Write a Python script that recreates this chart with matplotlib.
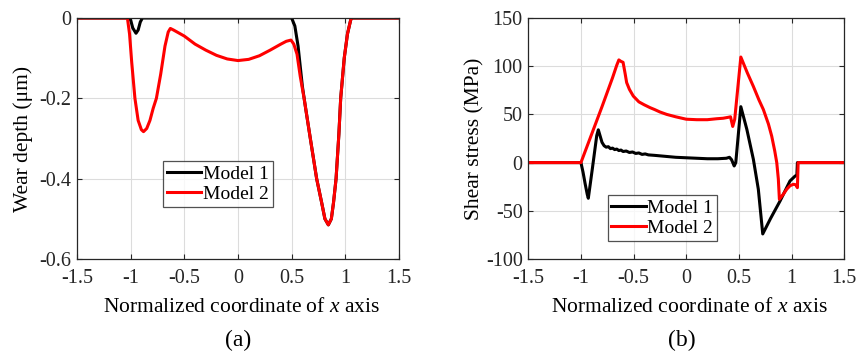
import numpy as np
import matplotlib
matplotlib.use("Agg")
import matplotlib.pyplot as plt

plt.rcParams['font.family'] = ['Liberation Serif', 'DejaVu Serif']
plt.rcParams['mathtext.fontset'] = 'custom'
plt.rcParams['mathtext.rm'] = 'Liberation Serif'
plt.rcParams['mathtext.it'] = 'Liberation Serif:italic'
plt.rcParams['axes.unicode_minus'] = False

# (a) wear depth
xa_m1 = [-1.5, -1.02, -1.0, -0.98, -0.95, -0.93, -0.91, -0.89, 0.5, 0.53, 0.56, 0.58, 0.6, 0.63,
         0.68, 0.733, 0.78, 0.81, 0.842, 0.87, 0.89, 0.914, 0.94, 0.957, 0.99, 1.02, 1.05, 1.06, 1.5]
ya_m1 = [0, 0, -0.005, -0.025, -0.038, -0.03, -0.01, 0, 0, -0.02, -0.07, -0.12, -0.17, -0.224,
         -0.31, -0.4, -0.46, -0.5, -0.515, -0.5, -0.46, -0.4, -0.29, -0.2, -0.1, -0.04, -0.005, 0, 0]

xa_m2 = [-1.5, -1.03, -1.01, -0.99, -0.96, -0.93, -0.9, -0.88, -0.85, -0.82, -0.79, -0.76, -0.72,
         -0.68, -0.65, -0.63, -0.6, -0.5, -0.4, -0.3, -0.2, -0.1, 0.0, 0.1, 0.2, 0.3, 0.4, 0.45,
         0.494, 0.52, 0.55, 0.58, 0.616, 0.68, 0.733, 0.78, 0.81, 0.842, 0.87, 0.89, 0.914, 0.94,
         0.957, 0.99, 1.02, 1.05, 1.06, 1.5]
ya_m2 = [0, 0, -0.04, -0.11, -0.2, -0.255, -0.278, -0.283, -0.275, -0.255, -0.225, -0.2, -0.14,
         -0.07, -0.035, -0.026, -0.03, -0.045, -0.065, -0.08, -0.093, -0.102, -0.106, -0.103,
         -0.094, -0.08, -0.065, -0.058, -0.055, -0.065, -0.09, -0.145, -0.2, -0.31, -0.4, -0.46,
         -0.5, -0.515, -0.5, -0.46, -0.4, -0.29, -0.2, -0.1, -0.04, -0.005, 0, 0]

# (b) shear stress
xb_m1 = [-1.5, -1.0, -0.98, -0.96, -0.94, -0.93, -0.89, -0.85, -0.835, -0.80, -0.78, -0.76, -0.74,
         -0.72, -0.70, -0.68, -0.66, -0.64, -0.62, -0.60, -0.57, -0.54, -0.51, -0.48, -0.45, -0.42,
         -0.39, -0.36, -0.3, -0.2, -0.1, 0.0, 0.1, 0.2, 0.3, 0.38, 0.41, 0.43, 0.455, 0.47, 0.518,
         0.575, 0.637, 0.684, 0.726, 0.8, 0.891, 0.985, 1.033, 1.05, 1.055, 1.5]
yb_m1 = [0, 0, -10, -22, -33, -37, -5, 28, 34, 21, 17.5, 16, 16.5, 14.5, 15, 13.5, 14, 12.5, 13,
         11.5, 12, 10.5, 11, 9.5, 10, 8.5, 9, 8, 7.5, 6.5, 5.5, 5, 4.5, 4, 4, 4.5, 5.5, 3, -3.5, 0,
         58, 34.5, 3.4, -27.6, -74, -58, -39.7, -19, -14, -13, 0, 0]

xb_m2 = [-1.5, -1.0, -0.9, -0.8, -0.7, -0.66, -0.64, -0.62, -0.60, -0.58, -0.566, -0.54, -0.503,
         -0.45, -0.4, -0.344, -0.3, -0.25, -0.186, -0.1, 0.0, 0.1, 0.2, 0.29, 0.35, 0.4, 0.42,
         0.441, 0.46, 0.518, 0.58, 0.637, 0.69, 0.732, 0.78, 0.811, 0.84, 0.859, 0.874, 0.884,
         0.92, 0.954, 0.985, 1.017, 1.04, 1.055, 1.062, 1.5]
yb_m2 = [0, 0, 29, 58, 88, 101, 106.5, 105, 104, 92, 83, 76, 69, 63, 60, 57, 55, 52.5, 50, 47.5,
         45, 44.5, 44.5, 45.5, 46, 47, 47.5, 37.5, 45, 109.5, 93, 79, 65, 55, 40, 27.5, 12, 0, -17,
         -38, -33, -27.6, -24, -22.5, -23, -26, 0, 0]

xticks = [-1.5, -1, -0.5, 0, 0.5, 1, 1.5]
xticklabels = ['-1.5', '-1', '-0.5', '0', '0.5', '1', '1.5']
ya_ticks = [-0.6, -0.4, -0.2, 0]
ya_ticklabels = ['-0.6', '-0.4', '-0.2', '0']
yb_ticks = [-100, -50, 0, 50, 100, 150]
yb_ticklabels = ['-100', '-50', '0', '50', '100', '150']

axc = '#262626'
fig = plt.figure(figsize=(8.58, 3.52), dpi=100)
ax1 = fig.add_axes([0.0897, 0.2642, 0.3753, 0.6847])
ax2 = fig.add_axes([0.6157, 0.2642, 0.3683, 0.6847])

def style(ax, yt, ytl, ylim, ylabel, ylab_x):
    ax.set_xlim(-1.5, 1.5)
    ax.set_ylim(*ylim)
    ax.set_xticks(xticks)
    ax.set_xticklabels(xticklabels)
    ax.set_yticks(yt)
    ax.set_yticklabels(ytl)
    ax.grid(True, color='#dcdcdc', linewidth=0.8)
    ax.set_axisbelow(True)
    ax.tick_params(direction='in', top=True, right=True, length=3.5, width=0.8,
                   labelsize=14.5, colors=axc)
    ax.tick_params(axis='x', pad=7)
    ax.tick_params(axis='y', pad=4)
    for s in ax.spines.values():
        s.set_color(axc)
        s.set_linewidth(0.9)
    ax.set_xlabel('Normalized coordinate of $x$ axis', fontsize=15.5, color='black')
    ax.xaxis.set_label_coords(0.51, -0.2)
    ax.xaxis.label.set_va('center')
    ax.set_ylabel(ylabel, fontsize=15.5, color='black')
    ax.yaxis.set_label_coords(ylab_x, 0.5)
    ax.yaxis.label.set_va('center')

def legend(ax, anchor):
    leg = ax.legend(loc='lower left', bbox_to_anchor=anchor, fontsize=14,
                    frameon=True, fancybox=False, handlelength=1.75,
                    handletextpad=0.1, borderpad=0.2, labelspacing=0.12,
                    borderaxespad=0)
    leg.get_frame().set_edgecolor(axc)
    leg.get_frame().set_linewidth(0.9)

ax1.plot(xa_m1, ya_m1, color='black', lw=2.2, label='Model 1')
ax1.plot(xa_m2, ya_m2, color='red', lw=2.2, label='Model 2')
style(ax1, ya_ticks, ya_ticklabels, (-0.6, 0), 'Wear depth (μm)', -0.167)
legend(ax1, (0.267, 0.217))

ax2.plot(xb_m1, yb_m1, color='black', lw=2.2, label='Model 1')
ax2.plot(xb_m2, yb_m2, color='red', lw=2.2, label='Model 2')
style(ax2, yb_ticks, yb_ticklabels, (-100, 150), 'Shear stress (MPa)', -0.169)
legend(ax2, (0.251, 0.076))

fig.text(0.278, 0.034, '(a)', ha='center', va='center', fontsize=17)
fig.text(0.795, 0.034, '(b)', ha='center', va='center', fontsize=17)

fig.savefig('out.png', dpi=100, facecolor='white')
